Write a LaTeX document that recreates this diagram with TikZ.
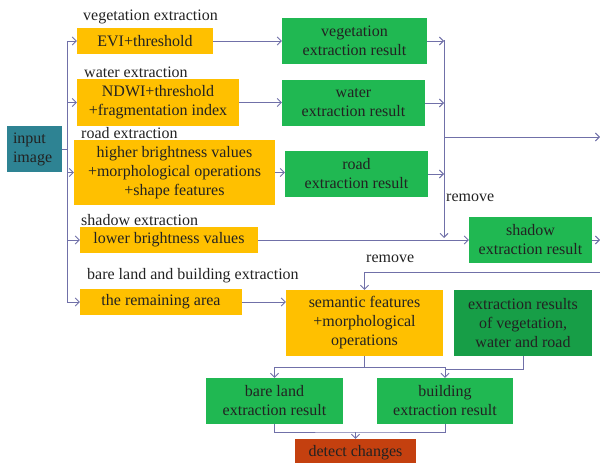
\documentclass[tikz,border=0pt]{standalone}
\usepackage{fontspec}
\setmainfont{Liberation Serif}
\usetikzlibrary{arrows.meta}
\definecolor{orng}{HTML}{FFC000}
\definecolor{grn}{HTML}{20B852}
\definecolor{dgrn}{HTML}{179E47}
\definecolor{teal}{HTML}{2E8393}
\definecolor{rd}{HTML}{C4400F}
\definecolor{ln}{HTML}{7070A8}
\definecolor{txt}{HTML}{222222}
\tikzset{
  box/.style={inner sep=0pt, align=center, text=txt, font=\fontsize{16}{19}\selectfont},
  lbl/.style={inner sep=0pt, anchor=west, text=txt, font=\fontsize{16}{19}\selectfont},
  conn/.style={draw=ln, line width=0.9pt},
  arr/.style={conn, -{Straight Barb[length=4pt,width=8pt]}},
}
\begin{document}
\begin{tikzpicture}[x=1pt,y=-1pt]
\useasboundingbox (0,0) rectangle (600,463);
% boxes
\node[box, fill=teal, minimum width=55, minimum height=46, align=left, text width=43] (in) at (34.5,149) {input\\image};
\node[box, fill=orng, minimum width=136, minimum height=26] (evi) at (145,41) {EVI+threshold};
\node[box, fill=orng, minimum width=162, minimum height=47] (ndwi) at (158,102.5) {NDWI+threshold\\+fragmentation index};
\node[box, fill=orng, minimum width=201, minimum height=65] (road) at (174.5,172.5) {higher brightness values\\+morphological operations\\+shape features};
\node[box, fill=orng, minimum width=178, minimum height=26] (low) at (169,240) {lower brightness values};
\node[box, fill=orng, minimum width=162, minimum height=26] (rem) at (161,302) {the remaining area};
\node[box, fill=grn, minimum width=145, minimum height=46] (vr) at (354.5,41) {vegetation\\extraction result};
\node[box, fill=grn, minimum width=143, minimum height=46] (wr) at (353.5,103) {water\\extraction result};
\node[box, fill=grn, minimum width=143, minimum height=46] (rr) at (356.5,174) {road\\extraction result};
\node[box, fill=grn, minimum width=123, minimum height=46] (sr) at (530.5,240) {shadow\\extraction result};
\node[box, fill=orng, minimum width=157, minimum height=66] (sem) at (364.5,323) {semantic features\\+morphological\\operations};
\node[box, fill=dgrn, minimum width=138, minimum height=66] (er) at (523,323) {extraction results\\of vegetation,\\water and road};
\node[box, fill=grn, minimum width=137, minimum height=46] (bl) at (274.5,401) {bare land\\extraction result};
\node[box, fill=grn, minimum width=136, minimum height=46] (bd) at (445,401) {building\\extraction result};
\node[box, fill=rd, minimum width=121, minimum height=28] (dc) at (355.5,453) {detect changes};
% labels
\node[lbl] (l1) at (83,17) {vegetation extraction};
\node[lbl] (l2) at (84,72) {water extraction};
\node[lbl] (l3) at (81,133) {road extraction};
\node[lbl] (l4) at (81,220) {shadow extraction};
\node[lbl] (l5) at (87,276) {bare land and building extraction};
\node[lbl] (r1) at (446,198) {remove};
\node[lbl] (r2) at (366,259) {remove};
% coordinates
\coordinate (tt) at (67,41);
\coordinate (cx) at (444,40);
\coordinate (cb) at (444,238);
\coordinate (oA) at (600,137);
\coordinate (oB) at (600,240);
\coordinate (rmA) at (600,272);
\coordinate (j1) at (364,367);
\coordinate (j2) at (445,369);
\coordinate (j3) at (355,432);
% trunk
\draw[conn] (in.east) -- (in.east -| tt);
\draw[conn] (tt) -- (rem.west -| tt);
\draw[arr] (evi.west -| tt) -- (evi.west);
\draw[arr] (ndwi.west -| tt) -- (ndwi.west);
\draw[arr] (road.west -| tt) -- (road.west);
\draw[arr] (low.west -| tt) -- (low.west);
\draw[arr] (rem.west -| tt) -- (rem.west);
% to results
\draw[arr] (evi.east) -- (vr.west |- evi.east);
\draw[arr] (ndwi.east) -- (wr.west |- ndwi.east);
\draw[arr] (road.east) -- (rr.west |- road.east);
\draw[arr] (rem.east) -- (sem.west |- rem.east);
% collector
\draw[arr] (vr.east) -- (vr.east -| cx);
\draw[arr] (wr.east) -- (wr.east -| cx);
\draw[arr] (rr.east) -- (rr.east -| cx);
\draw[arr] (cx) -- (cb);
\draw[arr] (oA -| cx) -- (oA);
\draw[arr] (low.east) -- (sr.west);
\draw[arr] (sr.east) -- (oB);
\draw[arr] (rmA) -- (rmA -| sem.north) -- (sem.north);
% bottom
\draw[conn] (sem.south) -- (sem.south |- j1);
\draw[arr] (bl.north |- j1) -- (bl.north);
\draw[conn] (bl.north |- j1) -- (bd.north |- j1);
\draw[arr] (bd.north |- j1) -- (bd.north);
\draw[conn] (er.south) |- (j2);
\draw[conn] (bl.south) |- (j3) -| (bd.south);
\draw[arr] (dc.north |- j3) -- (dc.north);
\end{tikzpicture}
\end{document}
